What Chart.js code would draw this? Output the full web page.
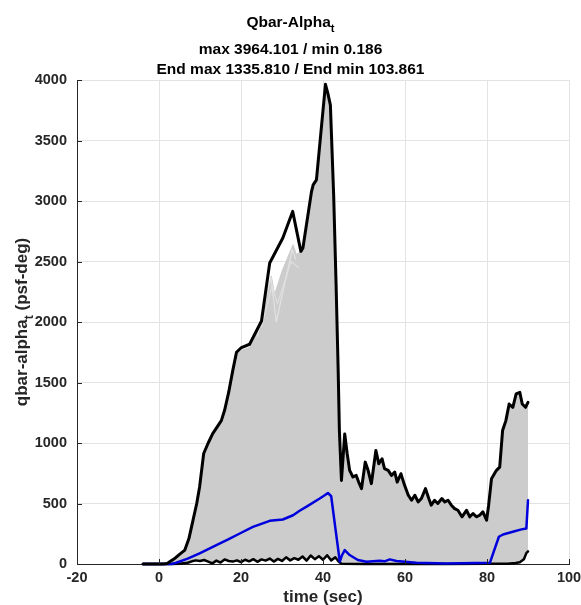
<!DOCTYPE html>
<html>
<head>
<meta charset="utf-8">
<script src="https://cdn.jsdelivr.net/npm/chart.js@4.4.0/dist/chart.umd.min.js"></script>
<style>
  html, body { margin: 0; padding: 0; background: #fff; }
</style>
</head>
<body>
<canvas id="qbar-chart" width="581" height="605"></canvas>
<script>
// envelope of all runs: max over runs (psf-deg) vs time (sec)
const maxTime = [-3.9, 1, 2, 2.6, 4, 5, 6.3, 7.3, 8.3, 9.2, 9.9, 10.9, 12, 13.1, 15.2, 16, 17, 18, 18.9, 20.1,
  22.1, 25, 27, 30.2, 32.6, 34.6, 35.1, 37.2, 37.6, 38.4, 40.6, 41.2, 41.8, 42.6, 43.2, 43.7, 44.0, 44.5, 45.3, 45.9,
  46.5, 47.3, 48.1, 48.7, 49.4, 50.3, 51.0, 51.8, 52.9, 53.6, 54.4, 55.0, 55.9, 56.7, 57.5, 58.1, 59.0, 59.9, 60.8, 61.6,
  62.4, 63.2, 64.0, 65.0, 65.8, 66.4, 67.2, 68.0, 69.0, 69.7, 70.5, 71.3, 72.1, 72.9, 73.9, 75.0, 75.8, 76.6, 77.4, 78.2,
  79.0, 79.9, 80.4, 81.1, 82.3, 83.1, 83.8, 84.6, 85.4, 86.3, 87.1, 88.0, 88.6, 89.4, 90];
const maxVals = [0, 0, 5, 19, 50, 80, 115, 210, 362, 500, 636, 913, 1000, 1078, 1185, 1270, 1420, 1600, 1750, 1789,
  1816, 2008, 2488, 2694, 2914, 2584, 2611, 3078, 3133, 3174, 3964.101, 3887, 3792, 3051, 2300, 1600, 1100, 691, 1075, 911,
  774, 719, 732, 677, 623, 842, 774, 664, 938, 829, 870, 788, 774, 732, 760, 677, 746, 650, 568, 527,
  568, 513, 541, 623, 541, 486, 527, 500, 541, 513, 527, 486, 458, 444, 390, 444, 390, 417, 390, 403,
  431, 362, 486, 705, 774, 801, 1103, 1185, 1322, 1295, 1405, 1418, 1322, 1295, 1335.81];

// where the bundle of runs sits below the max curve
const bundleTime = [18.9, 20.1, 22.1, 25, 26.5, 27.4, 28.2, 30, 32.7, 33.5];
const bundleVals = [1735, 1765, 1790, 1975, 2250, 2379, 2228, 2420, 2639, 2557];

// a couple of lighter runs showing through the bundle
const lightTime1 = [24, 27.3, 28.6, 32.5, 33.3];
const lightVals1 = [1880, 2370, 2000, 2600, 2520];
const lightTime2 = [25, 27.6, 28.9, 32.2, 34];
const lightVals2 = [1960, 2300, 2150, 2500, 2450];

// mean over runs
const meanTime = [-3.9, 3, 4.2, 7, 9.9, 14, 17, 19.7, 22.9, 27, 30.2, 32.7, 34.3, 35.9, 39.2, 40.5, 41.2, 42, 43, 44.1,
  44.6, 45.3, 46.5, 48.5, 50.6, 53.8, 55, 56.3, 57.9, 62.8, 70, 80.7, 82.9, 83.9, 86.3, 88.4, 89.6, 90];
const meanVals = [0, 0, 10, 45, 88, 156, 205, 252, 307, 357, 368, 403, 440, 472, 541, 570, 587, 560, 300, 19,
  70, 115, 74, 33, 19, 27, 22, 38, 25, 11, 5, 10, 225, 244, 266, 286, 294, 527];

// min over runs
const minTime = [-3.9, 3, 5, 7, 8, 9, 10, 11, 12, 13, 14, 15, 16, 17, 18, 19, 20, 21, 22, 23,
  24, 25, 26, 27, 28, 29, 30, 31, 32, 33, 34, 35, 36, 37, 38, 39, 40, 41, 42, 43,
  43.8, 44.5, 50, 60, 70, 80, 85, 87, 88, 89, 89.6, 90];
const minVals = [0, 0, 3, 10, 22, 30, 25, 33, 20, 5, 28, 12, 38, 25, 20, 30, 15, 35, 22, 40,
  18, 38, 28, 45, 20, 42, 25, 55, 30, 48, 35, 62, 28, 70, 40, 65, 35, 72, 30, 55,
  20, 2, 1, 1, 1, 2, 3, 8, 15, 40, 90, 103.861];

const xTicks = [-20, 0, 20, 40, 60, 80, 100];
const yTicks = [0, 500, 1000, 1500, 2000, 2500, 3000, 3500, 4000];

const FONT = '"Liberation Sans", Arial, Helvetica, sans-serif';
const AXIS_COLOR = '#262626';

function toPoints(xs, ys) {
  return xs.map((x, i) => ({ x: x, y: ys[i] }));
}

// top edge of the gray bundle: max curve, except where the runs fall below it
const maxPoints = toPoints(maxTime, maxVals);
const bundlePoints = maxPoints.filter(p => p.x < bundleTime[0])
  .concat(toPoints(bundleTime, bundleVals))
  .concat(maxPoints.filter(p => p.x >= 34.6));

// draws text pieces in a row, some of them as subscripts
function drawParts(ctx, parts, cx, baseline, size) {
  const widths = parts.map(p => {
    ctx.font = `bold ${p.sub ? size * 0.72 : size}px ${FONT}`;
    return ctx.measureText(p.text).width;
  });
  let x = cx - widths.reduce((a, b) => a + b, 0) / 2;
  ctx.textAlign = 'left';
  ctx.textBaseline = 'alphabetic';
  parts.forEach((p, i) => {
    ctx.font = `bold ${p.sub ? size * 0.72 : size}px ${FONT}`;
    ctx.fillText(p.text, x, baseline + (p.sub ? size * 0.33 : 0));
    x += widths[i];
  });
}

const labelsPlugin = {
  id: 'labels',
  afterDraw(chart) {
    const ctx = chart.ctx;
    const area = chart.chartArea;
    const xs = chart.scales.x;
    const ys = chart.scales.y;
    ctx.save();

    // inward tick marks
    ctx.strokeStyle = AXIS_COLOR;
    ctx.lineWidth = 1;
    ctx.beginPath();
    xTicks.forEach(v => {
      const px = Math.round(xs.getPixelForValue(v)) + 0.5;
      ctx.moveTo(px, area.bottom);
      ctx.lineTo(px, area.bottom - 5);
    });
    yTicks.forEach(v => {
      const py = Math.round(ys.getPixelForValue(v)) + 0.5;
      ctx.moveTo(area.left, py);
      ctx.lineTo(area.left + 5, py);
    });
    ctx.stroke();

    // titles
    ctx.fillStyle = '#000';
    const mid = chart.width / 2;
    drawParts(ctx, [{ text: 'Qbar-Alpha' }, { text: 't', sub: true }], mid, 27, 15.5);
    drawParts(ctx, [{ text: 'max 3964.101 / min 0.186' }], mid, 54, 15.5);
    drawParts(ctx, [{ text: 'End max 1335.810 / End min 103.861' }], mid, 74, 15.5);

    // axis labels
    ctx.fillStyle = AXIS_COLOR;
    drawParts(ctx, [{ text: 'time (sec)' }], (area.left + area.right) / 2, 602, 17);
    ctx.translate(27, (area.top + area.bottom) / 2);
    ctx.rotate(-Math.PI / 2);
    drawParts(ctx, [{ text: 'qbar-alpha' }, { text: 't', sub: true }, { text: ' (psf-deg)' }], 0, 0, 17);
    ctx.restore();
  }
};

const ctx = document.getElementById('qbar-chart').getContext('2d');

new Chart(ctx, {
  type: 'line',
  data: {
    datasets: [
      {
        label: 'runs',
        data: bundlePoints,
        borderColor: '#cccccc',
        borderWidth: 1,
        backgroundColor: '#cccccc',
        fill: { target: 4 },
        order: 5
      },
      {
        label: 'light run 1',
        data: toPoints(lightTime1, lightVals1),
        borderColor: '#e2e2e2',
        borderWidth: 1.2,
        fill: false,
        order: 4
      },
      {
        label: 'light run 2',
        data: toPoints(lightTime2, lightVals2),
        borderColor: '#dedede',
        borderWidth: 1.2,
        fill: false,
        order: 4
      },
      {
        label: 'max',
        data: maxPoints,
        borderColor: '#000000',
        borderWidth: 3,
        fill: false,
        order: 0
      },
      {
        label: 'min',
        data: toPoints(minTime, minVals),
        borderColor: '#000000',
        borderWidth: 2.5,
        fill: false,
        order: 2
      },
      {
        label: 'mean',
        data: toPoints(meanTime, meanVals),
        borderColor: '#0000dd',
        borderWidth: 2.5,
        fill: false,
        order: 1
      }
    ]
  },
  options: {
    responsive: false,
    animation: false,
    devicePixelRatio: 1,
    layout: { padding: { left: 0, top: 80, right: 12, bottom: 0 } },
    elements: {
      point: { radius: 0, hoverRadius: 0 },
      line: { tension: 0, borderJoinStyle: 'round', borderCapStyle: 'round' }
    },
    datasets: { line: { clip: false } },
    plugins: {
      legend: { display: false },
      title: { display: false },
      tooltip: { enabled: false }
    },
    scales: {
      x: {
        type: 'linear',
        min: -20,
        max: 100,
        afterBuildTicks: s => { s.ticks = xTicks.map(v => ({ value: v })); },
        afterFit: s => { s.height = 41; s.paddingLeft = 0; s.paddingRight = 0; },
        ticks: {
          padding: 5,
          color: AXIS_COLOR,
          font: { family: FONT, size: 14.5, weight: 'bold' },
          maxRotation: 0,
          callback: v => String(v)
        },
        grid: { color: '#e3e3e3', lineWidth: 1, drawTicks: false },
        border: { color: AXIS_COLOR, width: 1 }
      },
      y: {
        type: 'linear',
        min: 0,
        max: 4000,
        afterBuildTicks: s => { s.ticks = yTicks.map(v => ({ value: v })); },
        afterFit: s => { s.width = 77; s.paddingTop = 0; s.paddingBottom = 0; },
        ticks: {
          padding: 10,
          color: AXIS_COLOR,
          font: { family: FONT, size: 14.5, weight: 'bold' },
          callback: v => String(v)
        },
        grid: { color: '#e3e3e3', lineWidth: 1, drawTicks: false },
        border: { color: AXIS_COLOR, width: 1 }
      }
    }
  },
  plugins: [labelsPlugin]
});
</script>
</body>
</html>
